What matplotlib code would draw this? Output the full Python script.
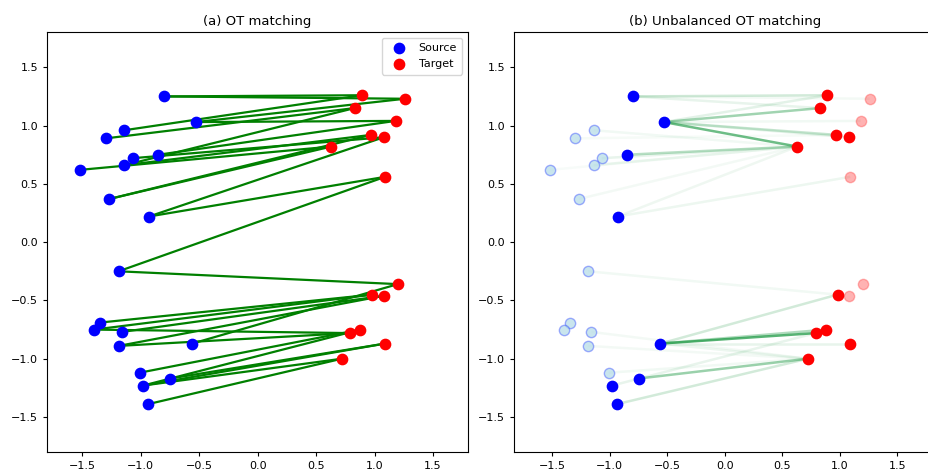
import numpy as np
import matplotlib
matplotlib.use("Agg")
import matplotlib.pyplot as plt

# source / target samples
src_x = [-0.80, -0.53, -1.14, -1.30, -0.85, -1.07, -1.14, -1.52, -1.27, -0.93,
         -1.19, -1.35, -1.40, -1.16, -1.19, -0.56, -1.01, -0.75, -0.98, -0.94]
src_y = [1.25, 1.03, 0.96, 0.89, 0.75, 0.72, 0.66, 0.62, 0.37, 0.22,
         -0.25, -0.69, -0.75, -0.77, -0.89, -0.87, -1.12, -1.17, -1.23, -1.39]
tgt_x = [0.89, 1.26, 0.83, 1.18, 0.97, 1.08, 0.63, 1.09,
         1.20, 0.98, 1.08, 0.88, 0.79, 1.09, 0.72]
tgt_y = [1.26, 1.23, 1.15, 1.04, 0.92, 0.90, 0.82, 0.56,
         -0.36, -0.45, -0.46, -0.75, -0.78, -0.87, -1.00]

# (a) balanced OT: pairs (source, target) with mass
ot_pairs = [(0, 0), (0, 1), (1, 1), (1, 3), (2, 0), (3, 2), (4, 3), (5, 5),
            (6, 2), (6, 4), (7, 6), (8, 4), (8, 6), (9, 5), (9, 7), (10, 7),
            (10, 8), (11, 9), (12, 9), (12, 12), (13, 10), (14, 10), (14, 12),
            (15, 8), (16, 11), (17, 13), (18, 11), (18, 13), (18, 14), (19, 14)]

# (b) unbalanced OT: (source, target, relative mass)
uot_pairs = [(1, 6, 0.65), (1, 2, 0.42), (1, 4, 0.25), (1, 5, 0.10), (1, 0, 0.12),
             (1, 3, 0.06), (0, 0, 0.20), (0, 2, 0.10), (0, 1, 0.05), (4, 6, 0.32),
             (5, 6, 0.10), (6, 6, 0.08), (2, 6, 0.06), (3, 4, 0.04), (8, 6, 0.05),
             (9, 6, 0.07), (9, 7, 0.08), (7, 6, 0.03),
             (15, 12, 0.75), (15, 11, 0.35), (15, 9, 0.20), (15, 13, 0.10),
             (15, 14, 0.08), (10, 9, 0.06), (13, 14, 0.05), (14, 14, 0.05),
             (17, 14, 0.45), (16, 14, 0.06), (18, 12, 0.10), (19, 14, 0.20)]
src_kept = [0, 1, 4, 9, 15, 17, 18, 19]
tgt_kept = [0, 2, 4, 5, 6, 9, 11, 12, 13, 14]

W, H = 929, 470
fig = plt.figure(figsize=(W / 100, H / 100), dpi=100)
ax1 = fig.add_axes([47.3 / W, 1 - 452 / H, 420.7 / W, 419.7 / H])
ax2 = fig.add_axes([514.3 / W, 1 - 452 / H, 421 / W, 419.7 / H])

# --- (a)
for i, j in ot_pairs:
    ax1.plot([src_x[i], tgt_x[j]], [src_y[i], tgt_y[j]], color="g", lw=1.6, zorder=1)
ax1.scatter(src_x, src_y, s=55, c="b", label="Source", zorder=3)
ax1.scatter(tgt_x, tgt_y, s=55, c="r", label="Target", zorder=3)
ax1.set_xlim(-1.8, 1.8)
ax1.set_ylim(-1.8, 1.8)
ax1.set_title("(a) OT matching", fontsize=9.5, pad=5)
ax1.legend(loc="upper right", fontsize=8, borderpad=0.5, handletextpad=0.8,
           labelspacing=0.5)

# --- (b)
for i, j, m in uot_pairs:
    ax2.plot([src_x[i], tgt_x[j]], [src_y[i], tgt_y[j]], color="#1f9a45",
             lw=1.8, alpha=m, solid_capstyle="butt", zorder=1)

sx = np.array(src_x); sy = np.array(src_y)
tx = np.array(tgt_x); ty = np.array(tgt_y)
s_on = np.isin(np.arange(len(sx)), src_kept)
t_on = np.isin(np.arange(len(tx)), tgt_kept)
ax2.scatter(sx[~s_on], sy[~s_on], s=55, facecolors=[(0.70, 0.86, 0.90, 0.7)],
            edgecolors=[(0.2, 0.3, 1.0, 0.45)], linewidths=1.0, zorder=2)
ax2.scatter(tx[~t_on], ty[~t_on], s=55, facecolors=[(1.0, 0.0, 0.0, 0.3)],
            edgecolors=[(1.0, 0.2, 0.2, 0.35)], linewidths=1.0, zorder=2)
ax2.scatter(sx[s_on], sy[s_on], s=55, c="b", zorder=3)
ax2.scatter(tx[t_on], ty[t_on], s=55, c="r", zorder=3)
ax2.set_xlim(-1.83, 1.83)
ax2.set_ylim(-1.8, 1.8)
ax2.set_title("(b) Unbalanced OT matching", fontsize=9.5, pad=5)

for ax in (ax1, ax2):
    ax.set_xticks([-1.5, -1.0, -0.5, 0.0, 0.5, 1.0, 1.5])
    ax.set_yticks([-1.5, -1.0, -0.5, 0.0, 0.5, 1.0, 1.5])
    ax.tick_params(labelsize=8, length=3)

fig.savefig("out.png", dpi=100)
